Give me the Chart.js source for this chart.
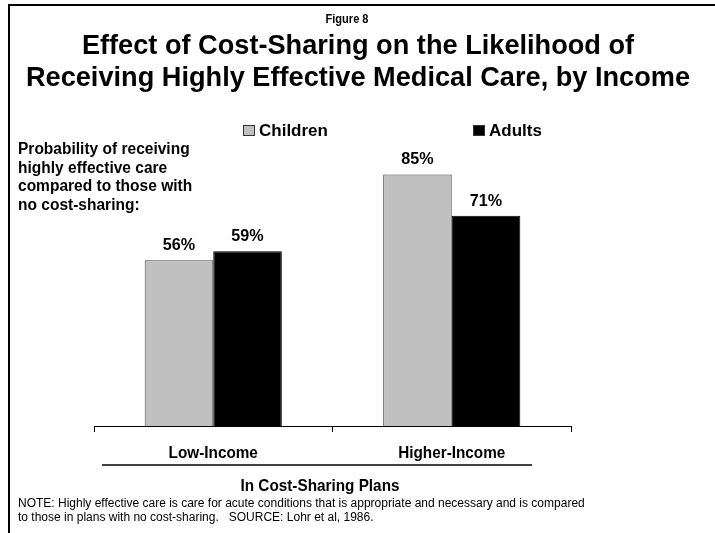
<!DOCTYPE html>
<html>
<head>
<meta charset="utf-8">
<title>Effect of Cost-Sharing</title>
<script src="https://cdn.jsdelivr.net/npm/chart.js@4.4.0/dist/chart.umd.min.js"></script>
<style>
  body { margin: 0; background: #fff; }
  canvas { display: block; }
</style>
</head>
<body>
<canvas id="costChart" width="715" height="533"></canvas>
<script>
// Income groups and the probability (%) for each group
const incomeGroups = ['Low-Income', 'Higher-Income'];
const childrenValues = [56, 85];
const adultsValues = [59, 71];
const seriesNames = ['Children', 'Adults'];

const figureLabel = 'Figure 8';
const titleLines = [
  'Effect of Cost-Sharing on the Likelihood of',
  'Receiving Highly Effective Medical Care, by Income'
];
const yDescription = [
  'Probability of receiving',
  'highly effective care',
  'compared to those with',
  'no cost-sharing:'
];
const xTitle = 'In Cost-Sharing Plans';
const noteLines = [
  'NOTE: Highly effective care is care for acute conditions that is appropriate and necessary and is compared',
  'to those in plans with no cost-sharing.   SOURCE: Lohr et al, 1986.'
];

const FONT = '"Liberation Sans", Arial, Helvetica, sans-serif';
const childFill = '#c0c0c0';
const adultFill = '#000000';

// text squeezed a little horizontally (narrow look of the slide fonts)
function narrowText(ctx, text, x, y, sx) {
  ctx.save();
  ctx.translate(x, y);
  ctx.scale(sx, 1);
  ctx.fillText(text, 0, 0);
  ctx.restore();
}

// everything that is not a bar gets drawn here
const decorPlugin = {
  id: 'decor',
  afterDraw(chart) {
    const ctx = chart.ctx;
    const xScale = chart.scales.x;
    ctx.save();

    // frame lines on top and left
    ctx.strokeStyle = '#000';
    ctx.lineWidth = 2;
    ctx.beginPath();
    ctx.moveTo(9, 533);
    ctx.lineTo(9, 5);
    ctx.lineTo(715, 5);
    ctx.stroke();

    ctx.fillStyle = '#000';
    ctx.textAlign = 'center';
    ctx.textBaseline = 'middle';

    // titles
    ctx.font = 'bold 28px ' + FONT;
    narrowText(ctx, titleLines[0], 358, 46, 0.97);
    narrowText(ctx, titleLines[1], 358, 78, 0.97);
    ctx.font = 'bold 13px ' + FONT;
    narrowText(ctx, figureLabel, 347, 19, 0.85);

    // y description
    ctx.textAlign = 'left';
    ctx.font = 'bold 16px ' + FONT;
    yDescription.forEach((line, i) => narrowText(ctx, line, 18, 150 + i * 18.4, 0.97));

    // legend
    const legendX = [243, 473];
    const fills = [childFill, adultFill];
    ctx.font = 'bold 17px ' + FONT;
    seriesNames.forEach((name, i) => {
      ctx.fillStyle = fills[i];
      ctx.fillRect(legendX[i], 125, 12, 11);
      ctx.strokeStyle = '#333';
      ctx.lineWidth = 1;
      ctx.strokeRect(legendX[i] + 0.5, 125.5, 11, 10);
      ctx.fillStyle = '#000';
      ctx.fillText(name, legendX[i] + 16, 131);
    });

    // value labels above bars
    ctx.textAlign = 'center';
    ctx.font = 'bold 17px ' + FONT;
    chart.data.datasets.forEach((ds, d) => {
      chart.getDatasetMeta(d).data.forEach((bar, i) => {
        narrowText(ctx, ds.data[i] + '%', bar.x, bar.y - 15, 0.95);
      });
    });

    // category labels
    ctx.font = 'bold 17px ' + FONT;
    incomeGroups.forEach((g, i) => {
      narrowText(ctx, g, xScale.getPixelForValue(i), 453, 0.9);
    });

    // underline and axis title
    ctx.lineWidth = 1.5;
    ctx.strokeStyle = '#000';
    ctx.beginPath();
    ctx.moveTo(102, 465);
    ctx.lineTo(532, 465);
    ctx.stroke();
    narrowText(ctx, xTitle, 320, 486, 0.9);

    // notes
    ctx.textAlign = 'left';
    ctx.font = '12px ' + FONT;
    noteLines.forEach((line, i) => ctx.fillText(line, 18, 504 + i * 14));

    ctx.restore();
  }
};

new Chart(document.getElementById('costChart'), {
  type: 'bar',
  data: {
    labels: incomeGroups,
    datasets: [
      {
        label: seriesNames[0],
        data: childrenValues,
        backgroundColor: childFill,
        borderColor: '#444',
        borderWidth: 1,
        categoryPercentage: 0.575,
        barPercentage: 1.0
      },
      {
        label: seriesNames[1],
        data: adultsValues,
        backgroundColor: adultFill,
        borderColor: '#000',
        borderWidth: 1,
        categoryPercentage: 0.575,
        barPercentage: 1.0
      }
    ]
  },
  options: {
    responsive: false,
    animation: false,
    events: [],
    layout: { padding: { left: 94, right: 144, top: 130, bottom: 0 } },
    plugins: {
      legend: { display: false },
      title: { display: false },
      tooltip: { enabled: false }
    },
    scales: {
      x: {
        grid: {
          display: true,
          offset: true,
          drawOnChartArea: false,
          drawTicks: true,
          tickLength: 6,
          color: '#000',
          lineWidth: 1
        },
        border: { display: true, color: '#000', width: 1 },
        ticks: { display: false },
        afterFit(scale) { scale.height = 107; }
      },
      y: {
        display: false,
        min: 0,
        max: 100
      }
    }
  },
  plugins: [decorPlugin]
});
</script>
</body>
</html>
